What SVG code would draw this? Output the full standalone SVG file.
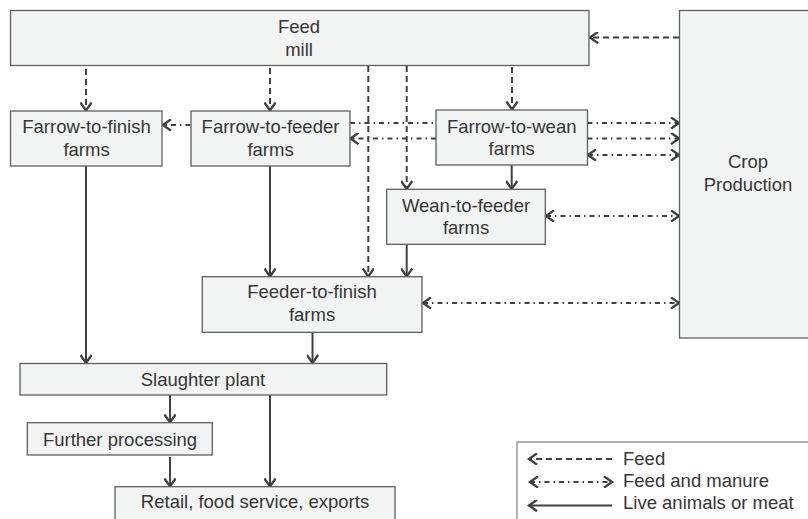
<svg xmlns="http://www.w3.org/2000/svg" width="808" height="519" viewBox="0 0 808 519">
<style>
.box{fill:#f2f3f3;stroke:#5f5f5f;stroke-width:1.3}
.t{font-family:"Liberation Sans",Arial,sans-serif;font-size:18.5px;fill:#363636;text-anchor:middle}
.lt{font-family:"Liberation Sans",Arial,sans-serif;font-size:18.5px;fill:#363636}
.c{fill:none;stroke:#404040;stroke-width:2}
.d{stroke-dasharray:6,4}
.dd{stroke-dasharray:5,4,1.5,4}
.a{marker-end:url(#ah)}
.b{marker-start:url(#ah);marker-end:url(#ah)}
</style>
<defs>
<marker id="ah" markerUnits="userSpaceOnUse" markerWidth="12" markerHeight="12" refX="7.5" refY="5" orient="auto-start-reverse" viewBox="0 0 10 10">
<path d="M0.8,0.3 L7.5,5 L0.8,9.7" fill="none" stroke="#404040" stroke-width="2"/>
</marker>
</defs>
<rect width="808" height="519" fill="#ffffff"/>
<g id="connectors">
<path class="c d a" d="M679,37.5 H590"/>
<path class="c d a" d="M86,69 V110.5"/>
<path class="c d a" d="M270,68 V110.5"/>
<path class="c d a" d="M512,67 V109.5"/>
<path class="c d a" d="M368.3,66 V276.5"/>
<path class="c d a" d="M406.7,66 V189"/>
<path class="c dd a" d="M190.5,125 H163"/>
<path class="c dd" d="M350,123 H436"/>
<path class="c dd a" d="M587.5,123 H679"/>
<path class="c dd a" d="M436,138.5 H350.5"/>
<path class="c dd a" d="M587.5,138.5 H679"/>
<path class="c dd b" d="M588,155 H679"/>
<path class="c dd b" d="M546,216 H679"/>
<path class="c dd b" d="M423,303 H679"/>
<path class="c a" d="M511.7,165 V189"/>
<path class="c a" d="M86,166 V363"/>
<path class="c a" d="M270,166 V276.5"/>
<path class="c a" d="M406.7,244.5 V276.5"/>
<path class="c a" d="M312.5,332.5 V363"/>
<path class="c a" d="M170,395 V422.5"/>
<path class="c a" d="M170,457 V486.5"/>
<path class="c a" d="M270,395 V486.5"/>
</g>
<g id="feed-mill"><rect class="box" x="10.5" y="10.5" width="578.5" height="55"/><text class="t" x="299" y="33.3">Feed</text><text class="t" x="299" y="56">mill</text></g>
<g id="crop-production"><rect class="box" x="679.5" y="10.5" width="140" height="327.5"/><text class="t" x="748" y="167.5">Crop</text><text class="t" x="748" y="190.7">Production</text></g>
<g id="farrow-to-finish"><rect class="box" x="10.5" y="111" width="151.5" height="55"/><text class="t" x="86.5" y="133.3">Farrow-to-finish</text><text class="t" x="86.5" y="156">farms</text></g>
<g id="farrow-to-feeder"><rect class="box" x="191" y="111" width="159" height="55"/><text class="t" x="270.5" y="133.3">Farrow-to-feeder</text><text class="t" x="270.5" y="156">farms</text></g>
<g id="farrow-to-wean"><rect class="box" x="436" y="110" width="151.5" height="55"/><text class="t" x="511.7" y="132.7">Farrow-to-wean</text><text class="t" x="511.7" y="155">farms</text></g>
<g id="wean-to-feeder"><rect class="box" x="386.7" y="189.3" width="158.6" height="55"/><text class="t" x="466" y="211.7">Wean-to-feeder</text><text class="t" x="466" y="234.3">farms</text></g>
<g id="feeder-to-finish"><rect class="box" x="202.3" y="276.7" width="219.7" height="55.6"/><text class="t" x="312" y="298.3">Feeder-to-finish</text><text class="t" x="312" y="321">farms</text></g>
<g id="slaughter-plant"><rect class="box" x="20" y="363.5" width="366.7" height="31.5"/><text class="t" x="203" y="385.7">Slaughter plant</text></g>
<g id="further-processing"><rect class="box" x="27.3" y="422.7" width="185" height="32.3"/><text class="t" x="120" y="446">Further processing</text></g>
<g id="retail"><rect class="box" x="115" y="486.7" width="280" height="40"/><text class="t" x="255" y="508.3">Retail, food service, exports</text></g>
<g id="legend">
<rect x="517" y="442" width="300" height="90" fill="#ffffff" stroke="#8a8a8a" stroke-width="1.3"/>
<path class="c d a" d="M612,459 H529"/>
<path class="c dd b" d="M530,482 H612"/>
<path class="c a" d="M612,505.5 H529"/>
<text class="lt" x="623" y="464.5">Feed</text>
<text class="lt" x="623" y="486.5">Feed and manure</text>
<text class="lt" x="623" y="509">Live animals or meat</text>
</g>
</svg>
